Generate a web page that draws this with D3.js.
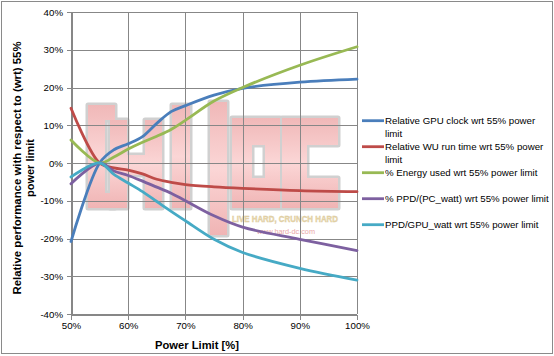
<!DOCTYPE html>
<html><head><meta charset="utf-8">
<script src="https://cdn.jsdelivr.net/npm/d3@7"></script>
<style>body{margin:0;background:#fff}svg{display:block}</style>
</head><body>
<svg id="c" width="554" height="356"></svg>
<script>
// ---- data ----
const powerLimits = [50, 55, 57.5, 60, 62.5, 65, 67.5, 70, 75, 80, 90, 100];
const gpuClock   = [-20.8, 0, 3.5, 5.1, 7.0, 10.5, 13.6, 15.2, 18.0, 19.8, 21.4, 22.2];
const wuRunTime  = [14.5, 0, -1.3, -1.9, -2.9, -4.3, -5.1, -5.7, -6.3, -6.7, -7.3, -7.6];
const energyUsed = [6.1, 0, 1.6, 3.7, 5.5, 7.1, 8.9, 11.3, 16.4, 20.0, 25.9, 30.8];
const ppdPcWatt  = [-5.5, 0, -2.1, -3.3, -4.8, -6.4, -8.0, -10.0, -14.0, -17.0, -20.2, -23.2];
const ppdGpuWatt = [-3.7, 0, -3.0, -5.3, -7.6, -10.2, -12.8, -15.3, -20.2, -23.7, -27.9, -31.0];
const seriesLabels = [
  ["Relative GPU clock wrt 55% power", "limit"],
  ["Relative WU run time wrt 55% power", "limit"],
  ["% Energy used wrt 55% power limit"],
  ["% PPD/(PC_watt) wrt 55% power limit"],
  ["PPD/GPU_watt wrt 55% power limit"]
];
const seriesColors = ["#4A7EBB", "#BE4B48", "#98B954", "#7D60A0", "#46AAC5"];
const xTickValues = [50, 60, 70, 80, 90, 100];
const yTickValues = [-40, -30, -20, -10, 0, 10, 20, 30, 40];
const xTitle = "Power Limit [%]";
const yTitleLines = ["Relative performance with respect to (wrt) 55%", "power limit"];

const series = [gpuClock, wuRunTime, energyUsed, ppdPcWatt, ppdGpuWatt].map((vals, i) => ({
  label: seriesLabels[i], color: seriesColors[i],
  points: powerLimits.map((p, j) => ({x: p, y: vals[j]}))
}));

// ---- layout ----
const FONT = "'Liberation Sans', Arial, sans-serif";
const svg = d3.select("#c");
const plot = {left: 71, right: 357, top: 12, bottom: 314};
const x = d3.scaleLinear().domain([50, 100]).range([plot.left, plot.right]);
const y = d3.scaleLinear().domain([-40, 40]).range([plot.bottom, plot.top]);

svg.append("rect").attr("x", 1.5).attr("y", 1.5).attr("width", 551).attr("height", 352)
  .attr("fill", "#fff").attr("stroke", "#8a8a8a").attr("stroke-width", 1);

// ---- watermark (decorative) ----
const wm = svg.append("g").attr("class", "watermark");
const wmShapes = [
  "M88,105H115V120H105V193H115V208H88Z",
  "M110,120H127V155H145V120H162V208H145V175H127V208H110Z",
  "M172,105H190V208H172Z",
  "M210,102H227V235H210Z",
  "M232,118H280V208H232Z M252,145V178H265V145Z",
  "M282,118H338V145H307V178H338V208H282Z"
];
wm.selectAll("path.o").data(wmShapes).join("path").attr("class", "o")
  .attr("d", d => d).attr("fill", "none").attr("stroke", "#d0d0d0").attr("stroke-width", 5)
  .attr("stroke-linejoin", "round").attr("fill-rule", "evenodd");
const grad = svg.append("defs").append("linearGradient").attr("id", "wmg")
  .attr("x1", 0).attr("y1", 0).attr("x2", 0).attr("y2", 1);
grad.append("stop").attr("offset", "0%").attr("stop-color", "#f0b8b8");
grad.append("stop").attr("offset", "50%").attr("stop-color", "#fbd6d6");
grad.append("stop").attr("offset", "100%").attr("stop-color", "#f0b4b4");
wm.selectAll("path.f").data(wmShapes).join("path").attr("class", "f")
  .attr("d", d => d).attr("fill", "url(#wmg)").attr("fill-rule", "evenodd");
wm.append("text").attr("x", 285).attr("y", 221.5).attr("text-anchor", "middle")
  .attr("font-family", FONT).attr("font-weight", "bold").attr("font-size", 9.5)
  .attr("textLength", 106).attr("lengthAdjust", "spacingAndGlyphs")
  .attr("fill", "#ead7a8").attr("stroke", "#d9c9a0").attr("stroke-width", 0.4)
  .text("LIVE HARD, CRUNCH HARD");
wm.append("text").attr("x", 286).attr("y", 233.5).attr("text-anchor", "middle")
  .attr("font-family", FONT).attr("font-size", 7.5)
  .attr("textLength", 58).attr("lengthAdjust", "spacingAndGlyphs")
  .attr("fill", "#eaa8a8").text("www.hard-dc.com");

// ---- gridlines ----
const grid = svg.append("g").attr("stroke", "#878787").attr("stroke-width", 1).attr("shape-rendering", "crispEdges");
grid.selectAll("line.h").data(yTickValues).join("line").attr("class", "h")
  .attr("x1", plot.left).attr("x2", plot.right).attr("y1", d => Math.round(y(d)) + 0.5).attr("y2", d => Math.round(y(d)) + 0.5);
grid.selectAll("line.v").data(xTickValues).join("line").attr("class", "v")
  .attr("y1", plot.top).attr("y2", plot.bottom).attr("x1", d => Math.round(x(d)) + 0.5).attr("x2", d => Math.round(x(d)) + 0.5);

// ---- axes ----
const yAxis = svg.append("g").attr("transform", `translate(${plot.left + 0.5},0)`)
  .call(d3.axisLeft(y).tickValues(yTickValues).tickFormat(d => d + "%").tickSize(5).tickPadding(4));
const xAxis = svg.append("g").attr("transform", `translate(0,${plot.bottom + 0.5})`)
  .call(d3.axisBottom(x).tickValues(xTickValues).tickFormat(d => d + "%").tickSize(5).tickPadding(4));
[xAxis, yAxis].forEach(a => {
  a.selectAll("path.domain").attr("stroke", "#878787").attr("shape-rendering", "crispEdges");
  a.selectAll(".tick line").attr("stroke", "#878787").attr("shape-rendering", "crispEdges");
  a.selectAll("text").attr("font-family", FONT).attr("font-size", 9.7).attr("fill", "#000");
});
yAxis.selectAll(".tick text").attr("x", -8.5);
xAxis.selectAll(".tick text").attr("y", 8);

// ---- lines ----
const line = d3.line().x(d => x(d.x)).y(d => y(d.y)).curve(d3.curveCatmullRom.alpha(0.5));
svg.append("g").selectAll("path").data(series).join("path")
  .attr("d", d => line(d.points)).attr("fill", "none")
  .attr("stroke", d => d.color).attr("stroke-width", 2.8)
  .attr("stroke-linejoin", "round").attr("stroke-linecap", "round");

// ---- titles ----
svg.append("text").attr("x", 197).attr("y", 349).attr("text-anchor", "middle")
  .attr("font-family", FONT).attr("font-weight", "bold").attr("font-size", 11.2).attr("fill", "#000")
  .text(xTitle);
const yt = svg.append("g").attr("transform", "translate(0,168) rotate(-90)");
yt.selectAll("text").data(yTitleLines).join("text")
  .attr("x", 0).attr("y", (d, i) => 20.5 + i * 13).attr("text-anchor", "middle")
  .attr("font-family", FONT).attr("font-weight", "bold").attr("font-size", 11).attr("fill", "#000")
  .attr("textLength", (d, i) => i === 0 ? 253 : null)
  .attr("lengthAdjust", "spacingAndGlyphs")
  .text(d => d);

// ---- legend ----
const legend = svg.append("g").attr("transform", "translate(362,120.7)");
const item = legend.selectAll("g").data(series).join("g")
  .attr("transform", (d, i) => `translate(0,${i * 26})`);
item.append("line").attr("x1", 0).attr("x2", 22).attr("y1", 0).attr("y2", 0)
  .attr("stroke", d => d.color).attr("stroke-width", 2.8);
item.selectAll("text").data(d => d.label).join("text")
  .attr("x", 23).attr("y", (d, i) => 3.5 + i * 12.7)
  .attr("font-family", FONT).attr("font-size", 9.7).attr("fill", "#000")
  .text(d => d);
</script>
</body></html>
